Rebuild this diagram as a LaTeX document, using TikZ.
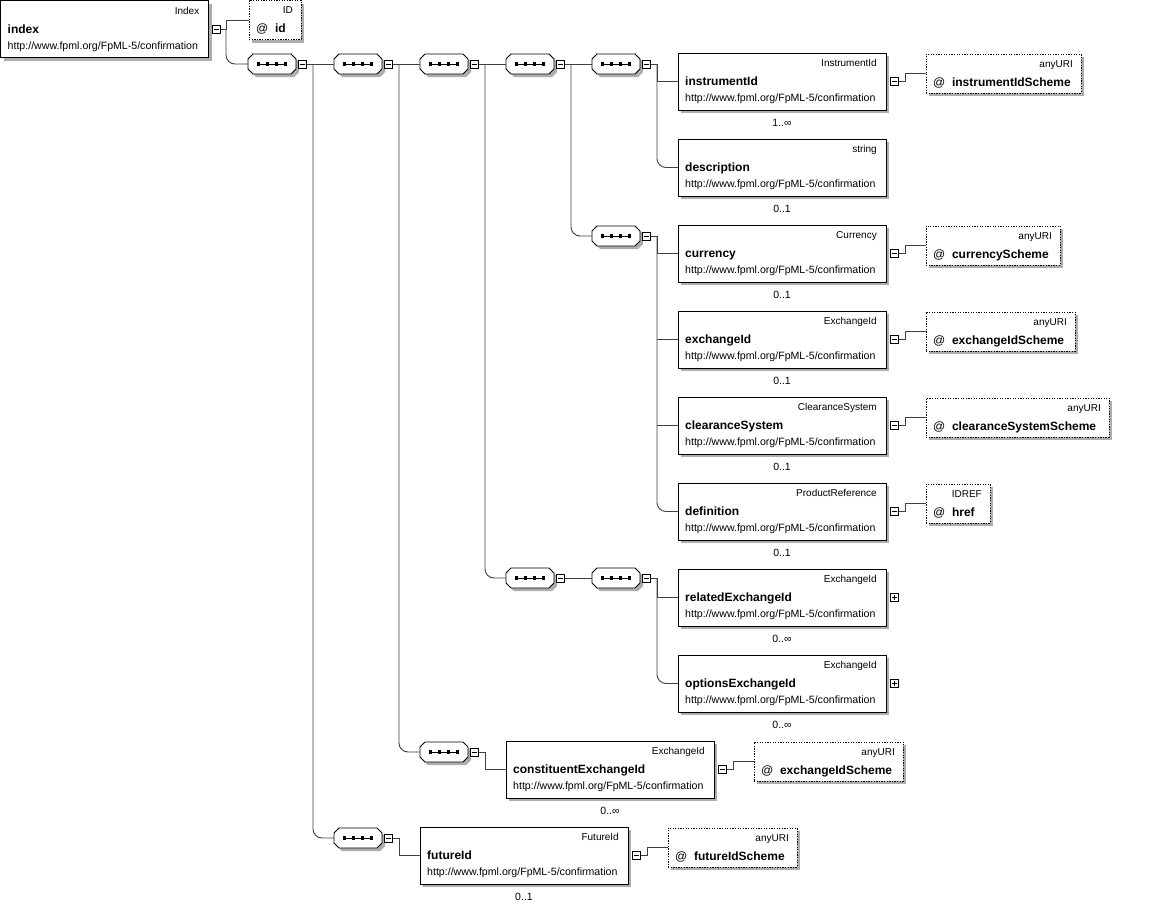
\documentclass[tikz,border=0pt]{standalone}
\usepackage{fontspec}
\setmainfont{Liberation Sans}
\usetikzlibrary{calc,shadows}
\definecolor{shade}{gray}{0.68}
\definecolor{wirec}{gray}{0.25}
\tikzset{
  shad/.style={drop shadow={shadow xshift=3pt,shadow yshift=-3pt,fill=shade,opacity=1}},
  elem/.style={draw=black,line width=0.9pt,fill=white,rectangle,minimum height=57,inner sep=0,outer sep=0,shad},
  attrb/.style={draw=black,line width=0.9pt,dash pattern=on 1.3pt off 1.3pt,fill=white,rectangle,minimum height=39,inner sep=0,outer sep=0,shad},
  seqn/.style={rectangle,minimum width=48,minimum height=20,inner sep=0,outer sep=0},
  pm/.style={draw=black,line width=0.8pt,fill=white,rectangle,minimum size=8,inner sep=0,outer sep=0},
  typ/.style={font=\fontsize{10}{12}\selectfont,inner sep=0},
  crd/.style={font=\fontsize{10.5}{12}\selectfont,inner sep=0},
  nm/.style={font=\fontsize{12}{14}\selectfont\bfseries,inner sep=0},
  url/.style={font=\fontsize{10.6}{12}\selectfont,inner sep=0},
  wire/.style={draw=wirec,line width=0.9pt},
}
% element box: id, x, top, width, type, name
\newcommand\elem[6]{%
  \node[elem,minimum width=#4,anchor=north west] (#1) at (#2,#3) {};
  \node[typ,anchor=base east] (#1t) at ([shift={(-9,13.7)}]#1.north east) {#5};
  \node[nm,anchor=base west] (#1n) at ([shift={(7,32.7)}]#1.north west) {#6};
  \node[url,anchor=base west] (#1u) at ([shift={(7,48.7)}]#1.north west) {http://www.fpml.org/FpML-5/confirmation};
}
\newcommand\card[2]{%
  \node[crd,anchor=base] (#1c) at ([shift={(0,16.7)}]#1.south) {#2};
}
% attribute box: id, x, top, width, type, name
\newcommand\attr[6]{%
  \node[attrb,minimum width=#4,anchor=north west] (#1) at (#2,#3) {};
  \node[typ,anchor=base east] (#1t) at ([shift={(-8,13.4)}]#1.north east) {#5};
  \node[nm,anchor=base west] (#1n) at ([shift={(7,32.4)}]#1.north west) {{\mdseries @}\ \ #6};
}
\newcommand\octo[4]{%
  \path[#4] ({#1+5+#3},{#2-10+#3}) -- ({#1+43+#3},{#2-10+#3}) -- ({#1+48+#3},{#2-5+#3})
   -- ({#1+48+#3},{#2+5+#3}) -- ({#1+43+#3},{#2+10+#3}) -- ({#1+5+#3},{#2+10+#3})
   -- ({#1+#3},{#2+5+#3}) -- ({#1+#3},{#2-5+#3}) -- cycle;}
% sequence symbol: id, left x, centre y
\newcommand\seqsym[3]{%
  \octo{#2}{#3}{3}{fill=shade}
  \octo{#2}{#3}{0}{fill=white,draw=black,line width=0.9pt}
  \node[seqn,anchor=west] (#1) at (#2,#3) {};
  \draw[line width=0.8pt] ({#2+10.5},#3) -- ({#2+37.5},#3);
  \foreach \dx in {10.5,19.5,28.5,37.5} {\fill ({#2+\dx-1.9},{#3-1.9}) rectangle ({#2+\dx+1.9},{#3+1.9});}
}
\newcommand\minus[3]{%
  \node[pm] (#1) at (#2,#3) {};
  \draw[line width=0.8pt] ([xshift=1.6pt]#1.west) -- ([xshift=-1.6pt]#1.east);
}
\newcommand\plus[3]{%
  \node[pm] (#1) at (#2,#3) {};
  \draw[line width=0.8pt] ([xshift=1.6pt]#1.west) -- ([xshift=-1.6pt]#1.east);
  \draw[line width=0.8pt] ([yshift=-1.6pt]#1.north) -- ([yshift=1.6pt]#1.south);
}
\begin{document}
\begin{tikzpicture}[x=1pt,y=-1pt]
\useasboundingbox (0,0) rectangle (1149,905);
\fill[white] (0,0) rectangle (1149,905);

% ---------- root ----------
\elem{idx}{0.5}{0.5}{208}{Index}{index}
\minus{m0}{216.5}{29}
\attr{aid}{249}{0.5}{52}{ID}{id}
\coordinate (j0) at (226,29);

% ---------- sequences ----------
\seqsym{s1}{248}{64}  \minus{m1}{302.5}{64}  \coordinate (b1) at (313,64);
\seqsym{s2}{334}{64}  \minus{m2}{388.5}{64}  \coordinate (b2) at (399,64);
\seqsym{s3}{420}{64}  \minus{m3}{474.5}{64}  \coordinate (b3) at (485,64);
\seqsym{s4}{506}{64}  \minus{m4}{560.5}{64}  \coordinate (b4) at (571,64);
\seqsym{s5}{592}{64}  \minus{m5}{646.5}{64}  \coordinate (b5) at (657,64);

\seqsym{s6}{592}{236} \minus{m6}{646.5}{236} \coordinate (b6) at (657,236);
\seqsym{s7}{506}{578} \minus{m7}{560.5}{578}
\seqsym{s8}{592}{578} \minus{m8}{646.5}{578} \coordinate (b8) at (657,578);
\seqsym{s9}{420}{752} \minus{m9}{474.5}{752} \coordinate (b9) at (485,752);
\seqsym{s10}{334}{838} \minus{m10}{388.5}{838} \coordinate (b10) at (399,838);

% ---------- elements ----------
\elem{e1}{678}{53}{208}{InstrumentId}{instrumentId}        \card{e1}{1..∞}
\elem{e2}{678}{139}{208}{string}{description}              \card{e2}{0..1}
\elem{e3}{678}{225}{208}{Currency}{currency}               \card{e3}{0..1}
\elem{e4}{678}{311}{208}{ExchangeId}{exchangeId}           \card{e4}{0..1}
\elem{e5}{678}{397}{208}{ClearanceSystem}{clearanceSystem} \card{e5}{0..1}
\elem{e6}{678}{483}{208}{ProductReference}{definition}     \card{e6}{0..1}
\elem{e7}{678}{569}{208}{ExchangeId}{relatedExchangeId}    \card{e7}{0..∞}
\elem{e8}{678}{655}{208}{ExchangeId}{optionsExchangeId}    \card{e8}{0..∞}
\elem{e9}{506}{741}{208}{ExchangeId}{constituentExchangeId} \card{e9}{0..∞}
\elem{e10}{420}{827}{208}{FutureId}{futureId}              \card{e10}{0..1}

% element +/- and attributes
\minus{me1}{894.5}{81.5} \attr{a1}{926}{54}{155}{anyURI}{instrumentIdScheme}
\minus{me3}{894.5}{253.5} \attr{a3}{926}{226}{134}{anyURI}{currencyScheme}
\minus{me4}{894.5}{339.5} \attr{a4}{926}{312}{149}{anyURI}{exchangeIdScheme}
\minus{me5}{894.5}{425.5} \attr{a5}{926}{398}{183}{anyURI}{clearanceSystemScheme}
\minus{me6}{894.5}{511.5} \attr{a6}{926}{484}{64}{IDREF}{href}
\plus{pe7}{894.5}{597.5}
\plus{pe8}{894.5}{683.5}
\minus{me9}{722.5}{769.5} \attr{a9}{754}{742}{149}{anyURI}{exchangeIdScheme}
\minus{me10}{636.5}{855.5} \attr{a10}{668}{828}{129}{anyURI}{futureIdScheme}

\coordinate (ja1) at (905,81.5);
\coordinate (ja3) at (905,253.5);
\coordinate (ja4) at (905,339.5);
\coordinate (ja5) at (905,425.5);
\coordinate (ja6) at (905,511.5);
\coordinate (ja9) at (733,769.5);
\coordinate (ja10) at (647,855.5);

% ---------- connectors ----------
\draw[wire] (m0.east) -- (j0) |- (aid.west);
\draw[wire,rounded corners=9] (j0) |- (s1.west);

\draw[wire] (m1.east) -- (s2.west);
\draw[wire] (m2.east) -- (s3.west);
\draw[wire] (m3.east) -- (s4.west);
\draw[wire] (m4.east) -- (s5.west);

\draw[wire,rounded corners=9] (b1) |- (s10.west);
\draw[wire,rounded corners=9] (b2) |- (s9.west);
\draw[wire,rounded corners=9] (b3) |- (s7.west);
\draw[wire,rounded corners=9] (b4) |- (s6.west);

\draw[wire] (m5.east) -- (b5) |- (e1.west);
\draw[wire,rounded corners=9] (b5) |- (e2.west);

\draw[wire] (m6.east) -- (b6) |- (e3.west);
\draw[wire] (b6 |- e4.west) -- (e4.west);
\draw[wire] (b6 |- e5.west) -- (e5.west);
\draw[wire,rounded corners=9] (b6) |- (e6.west);

\draw[wire] (m7.east) -- (s8.west);
\draw[wire] (m8.east) -- (b8) |- (e7.west);
\draw[wire,rounded corners=9] (b8) |- (e8.west);

\draw[wire] (m9.east) -- (b9) |- (e9.west);
\draw[wire] (m10.east) -- (b10) |- (e10.west);

\draw[wire] (me1.east) -- (ja1) |- (a1.west);
\draw[wire] (me3.east) -- (ja3) |- (a3.west);
\draw[wire] (me4.east) -- (ja4) |- (a4.west);
\draw[wire] (me5.east) -- (ja5) |- (a5.west);
\draw[wire] (me6.east) -- (ja6) |- (a6.west);
\draw[wire] (me9.east) -- (ja9) |- (a9.west);
\draw[wire] (me10.east) -- (ja10) |- (a10.west);
\end{tikzpicture}
\end{document}
